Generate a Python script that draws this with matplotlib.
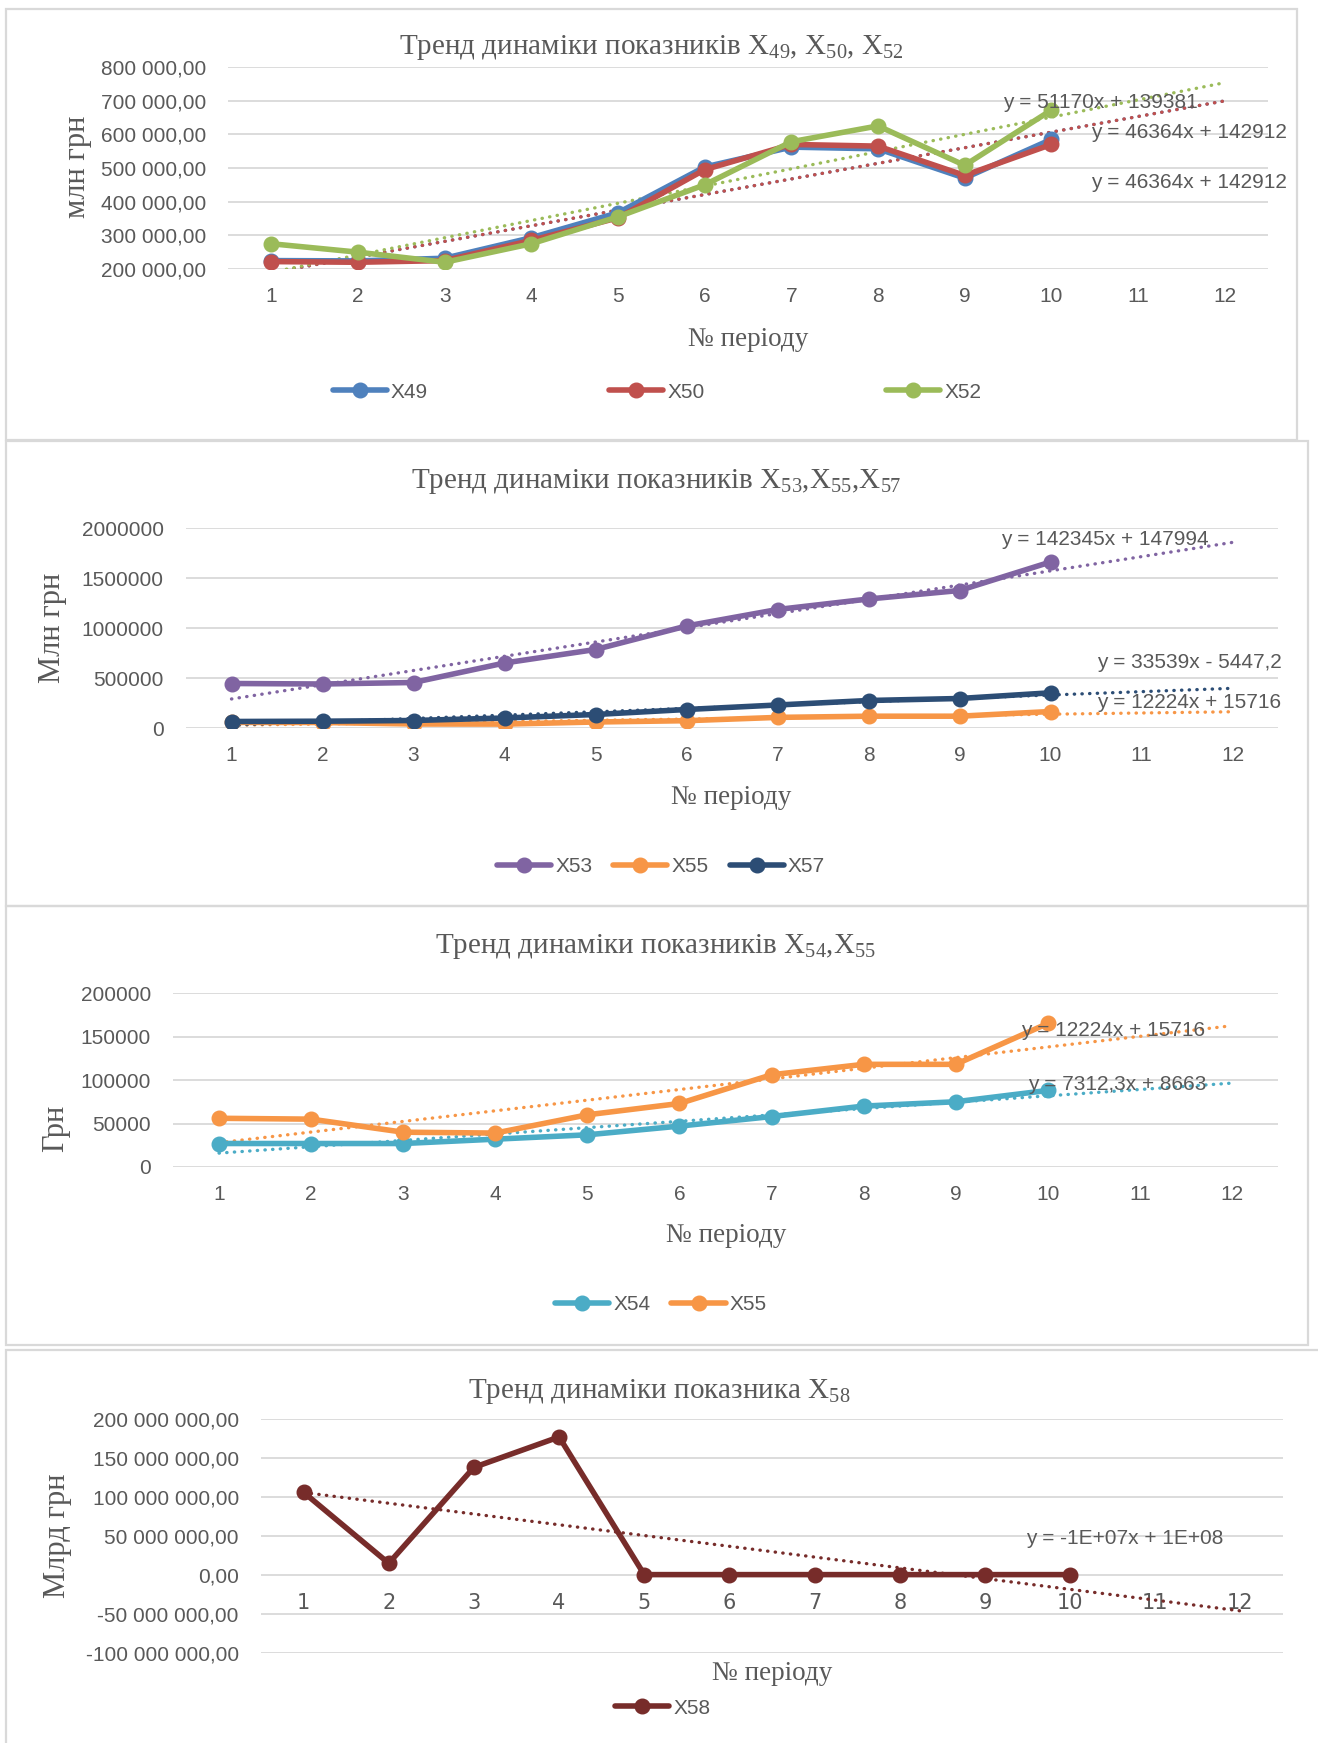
import numpy as np
import matplotlib
matplotlib.use("Agg")
import matplotlib.pyplot as plt
from matplotlib.patches import Rectangle
from matplotlib.ticker import FuncFormatter

plt.rcParams['mathtext.fontset'] = 'custom'
plt.rcParams['mathtext.rm'] = 'Liberation Serif'

# ---- data ----
periods = list(range(1, 11))
ticks_x = list(range(1, 13))

x49 = [225000, 224000, 232000, 293000, 367000, 503000, 562000, 557000, 470000, 585000]
x50 = [222000, 220000, 225000, 285000, 352000, 495000, 570000, 565000, 478000, 570000]
x52 = [275000, 250000, 220000, 275000, 355000, 450000, 578000, 625000, 508000, 672000]
x53 = [445000, 440000, 455000, 650000, 785000, 1020000, 1185000, 1290000, 1375000, 1660000]
x55 = [56000, 55000, 40000, 39000, 60000, 73000, 106000, 118000, 118000, 165000]
x57 = [65000, 68000, 75000, 100000, 135000, 185000, 230000, 275000, 295000, 352000]
x54 = [27000, 27000, 27000, 32000, 37000, 47000, 58000, 70000, 75000, 88000]
x58 = [106e6, 15e6, 138e6, 177e6, 0.5e6, 0.5e6, 0.5e6, 0.5e6, 0.5e6, 0.5e6]

# linear trends (slope, intercept)
trend49 = (46364, 142912)
trend50 = (46364, 142912)
trend52 = (51170, 139381)
trend53 = (142345, 147994)
trend55 = (12224, 15716)
trend57 = (33539, -5447.2)
trend54 = (7312.3, 8663)
trend58 = (-1.38e7, 1.196e8)

W, H = 1318, 1743
GRAY = '#595959'
SANS = 'Liberation Sans'
SERIF = 'Liberation Serif'

fig = plt.figure(figsize=(W / 100, H / 100), dpi=100)


def fx(x):
    return x / W


def fy(y):
    return 1 - y / H


def panel(x0, y0, x1, y1):
    fig.add_artist(Rectangle((fx(x0), fy(y1)), (x1 - x0) / W, (y1 - y0) / H,
                             transform=fig.transFigure, fill=False,
                             ec='#D9D9D9', lw=1.6))


def make_axes(x0, y0, x1, y1, ylim, yticks, fmt):
    ax = fig.add_axes([fx(x0), fy(y1), (x1 - x0) / W, (y1 - y0) / H])
    ax.set_xlim(0.5, 12.5)
    ax.set_xticks(ticks_x)
    ax.set_ylim(*ylim)
    ax.set_yticks(yticks)
    ax.yaxis.set_major_formatter(FuncFormatter(fmt))
    ax.grid(axis='y', color='#D9D9D9', lw=1.3)
    ax.set_axisbelow(True)
    for s in ax.spines.values():
        s.set_color('none')
    ax.tick_params(length=0, labelsize=15, labelcolor=GRAY)
    ax.tick_params(axis='x', pad=13)
    ax.tick_params(axis='y', pad=16)
    for lab in ax.get_xticklabels() + ax.get_yticklabels():
        lab.set_family(SANS)
    return ax


def series(ax, y, trend, color):
    line, = ax.plot(periods, y, color=color, lw=4, marker='o', ms=10.5,
                    solid_capstyle='round', solid_joinstyle='round', zorder=3)
    tx = np.array([periods[0], periods[-1] + 2])
    ax.plot(tx, trend[0] * tx + trend[1], color=color, lw=2.4,
            linestyle=(0, (0.1, 2.2)), dash_capstyle='round', zorder=2)
    return line


def ftext(x, y, s, **kw):
    fig.text(fx(x), fy(y), s, ha='center', va='center', **kw)


def legend(ax, handles, labels, cx, cy, spacing):
    ax.legend(handles, labels, loc='center', bbox_to_anchor=(fx(cx), fy(cy)),
              bbox_transform=fig.transFigure, ncol=len(handles), frameon=False,
              handlelength=2.6, handletextpad=0.2, columnspacing=spacing,
              prop={'family': SANS, 'size': 15}, labelcolor=GRAY)


def fmt_dec(v, pos):
    s = '{:,.2f}'.format(v).replace(',', ' ').replace('.', ',')
    return s


def fmt_int(v, pos):
    return '{:d}'.format(int(v))


TSIZE = 21
XSIZE = 19.5
YSIZE = 22

# ---- panel 1 ----
panel(6, 9, 1297, 440)
ax1 = make_axes(228, 67, 1268, 269, (200000, 800000),
                range(200000, 800001, 100000), fmt_dec)
h49 = series(ax1, x49, trend49, '#4F81BD')
h50 = series(ax1, x50, trend50, '#C0504D')
h52 = series(ax1, x52, trend52, '#9BBB59')
ftext(651, 48, r'Тренд динаміки показників X$\mathregular{_{49}}$, X$\mathregular{_{50}}$, X$\mathregular{_{52}}$',
      family=SERIF, size=TSIZE, color=GRAY)
ftext(748, 339, '№ періоду', family=SERIF, size=XSIZE, color=GRAY)
ftext(78, 167, 'млн грн', family=SERIF, size=YSIZE, color=GRAY, rotation=90)
ftext(1100, 103, 'y = 51170x + 139381', family=SANS, size=15, color=GRAY)
ftext(1189, 133, 'y = 46364x + 142912', family=SANS, size=15, color=GRAY)
ftext(1189, 183, 'y = 46364x + 142912', family=SANS, size=15, color=GRAY)
legend(ax1, [h49, h50, h52], ['X49', 'X50', 'X52'], 657, 392, 8.7)

# ---- panel 2 ----
panel(6, 441, 1308, 906)
ax2 = make_axes(186, 528, 1278, 728, (0, 2000000),
                range(0, 2000001, 500000), fmt_int)
h53 = series(ax2, x53, trend53, '#8064A2')
h55 = series(ax2, x55, trend55, '#F79646')
h57 = series(ax2, x57, trend57, '#2C4D75')
ftext(656, 481, r'Тренд динаміки показників X$\mathregular{_{53}}$,X$\mathregular{_{55}}$,X$\mathregular{_{57}}$',
      family=SERIF, size=TSIZE, color=GRAY)
ftext(731, 797, '№ періоду', family=SERIF, size=XSIZE, color=GRAY)
ftext(53, 628, 'Млн грн', family=SERIF, size=YSIZE, color=GRAY, rotation=90)
ftext(1105, 539, 'y = 142345x + 147994', family=SANS, size=15, color=GRAY)
ftext(1189, 663, 'y = 33539x - 5447,2', family=SANS, size=15, color=GRAY)
ftext(1189, 702, 'y = 12224x + 15716', family=SANS, size=15, color=GRAY)
legend(ax2, [h53, h55, h57], ['X53', 'X55', 'X57'], 661, 867, 1.0)

# ---- panel 3 ----
panel(6, 906, 1308, 1345)
ax3 = make_axes(173, 993, 1278, 1167, (0, 200000),
                range(0, 200001, 50000), fmt_int)
h54 = series(ax3, x54, trend54, '#4BACC6')
h55b = series(ax3, x55, trend55, '#F79646')
ftext(656, 947, r'Тренд динаміки показників X$\mathregular{_{54}}$,X$\mathregular{_{55}}$',
      family=SERIF, size=TSIZE, color=GRAY)
ftext(726, 1236, '№ періоду', family=SERIF, size=XSIZE, color=GRAY)
ftext(56, 1128, 'Грн', family=SERIF, size=YSIZE, color=GRAY, rotation=90)
ftext(1113, 1031, 'y = 12224x + 15716', family=SANS, size=15, color=GRAY)
ftext(1117, 1084, 'y = 7312,3x + 8663', family=SANS, size=15, color=GRAY)
legend(ax3, [h54, h55b], ['X54', 'X55'], 661, 1305, 1.0)

# ---- panel 4 ----
panel(6, 1350, 1330, 1760)
ax4 = make_axes(261, 1419, 1283, 1653, (-100e6, 200e6),
                np.arange(-100e6, 200e6 + 1, 50e6), fmt_dec)
ax4.spines['bottom'].set_position(('data', 0))
h58 = series(ax4, x58, trend58, '#772C2A')
ftext(659, 1392, r'Тренд динаміки показника X$\mathregular{_{58}}$',
      family=SERIF, size=TSIZE, color=GRAY)
ftext(772, 1674, '№ періоду', family=SERIF, size=XSIZE, color=GRAY)
ftext(58, 1536, 'Млрд грн', family=SERIF, size=YSIZE, color=GRAY, rotation=90)
ftext(1125, 1539, 'y = -1E+07x + 1E+08', family=SANS, size=15, color=GRAY)
legend(ax4, [h58], ['X58'], 663, 1708, 1.0)

fig.savefig('out.png', dpi=100, facecolor='white')
